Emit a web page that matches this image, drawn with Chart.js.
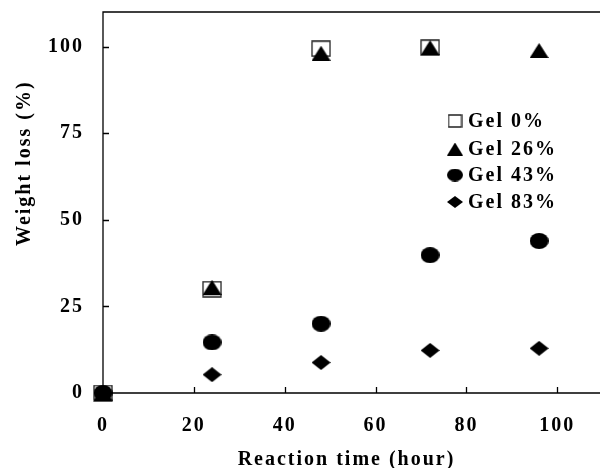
<!DOCTYPE html>
<html>
<head>
<meta charset="utf-8">
<script src="https://cdn.jsdelivr.net/npm/chart.js@4.4.0/dist/chart.umd.min.js"></script>
<style>
  html, body { margin: 0; padding: 0; background: #fff; overflow: hidden; }
  #wrap { width: 600px; height: 468px; }
</style>
</head>
<body>
<div id="wrap"><canvas id="myChart"></canvas></div>
<script>
// data
const hours = [0, 24, 48, 72, 96];
const gel0 = [0, 30, 99.4, 99.7, null];
const gel26 = [0, 30.5, 98.1, 99.7, 98.9];
const gel43 = [0, 14.6, 20, 39.8, 43.9];
const gel83 = [0, 5.3, 8.8, 12.3, 12.9];
const seriesNames = ['Gel 0%', 'Gel 26%', 'Gel 43%', 'Gel 83%'];
const xTicks = [0, 20, 40, 60, 80, 100];
const yTicks = [0, 25, 50, 75, 100];
const xTitle = 'Reaction time (hour)';
const yTitle = 'Weight loss (%)';

const FAMILY = "'Liberation Serif', 'Times New Roman', serif";
const FONT = { family: FAMILY, size: 20, weight: 'bold' };

// marker images (the original symbols are stretched sideways)
function marker(kind, w, h) {
  const c = document.createElement('canvas');
  c.width = w; c.height = h;
  const g = c.getContext('2d');
  g.fillStyle = '#000';
  g.strokeStyle = '#222';
  g.lineWidth = 1.3;
  g.beginPath();
  if (kind === 'square') {
    g.rect(1, 1, w - 2, h - 2);
    g.stroke();
    return c;
  }
  if (kind === 'triangle') {
    g.moveTo(w / 2, 0); g.lineTo(w, h); g.lineTo(0, h);
  } else if (kind === 'ellipse') {
    g.ellipse(w / 2, h / 2, w / 2, h / 2, 0, 0, Math.PI * 2);
  } else {
    g.moveTo(w / 2, 0); g.lineTo(w, h / 2); g.lineTo(w / 2, h); g.lineTo(0, h / 2);
  }
  g.closePath();
  g.fill();
  return c;
}
const markers = [marker('square', 20, 17), marker('triangle', 19, 15), marker('ellipse', 19, 16), marker('diamond', 19, 15)];
const legendMarkers = [marker('square', 15, 14), marker('triangle', 16, 13), marker('ellipse', 16, 13), marker('diamond', 16, 12)];

const toPoints = (ys) => hours.map((x, i) => ({ x: x, y: ys[i] })).filter(p => p.y !== null);
const allSeries = [gel0, gel26, gel43, gel83];

const datasets = allSeries.map((ys, i) => ({
  label: seriesNames[i],
  data: toPoints(ys),
  pointStyle: markers[i],
  pointRadius: 9,
  showLine: false,
  clip: false,
  order: 4 - i
}));

// frame + inward tick marks + y title + legend
const extras = {
  id: 'extras',
  beforeDraw(chart) {
    chart.ctx.letterSpacing = '2px';
  },
  afterDraw(chart) {
    const { ctx, chartArea: a, scales } = chart;
    ctx.save();
    ctx.strokeStyle = '#000';
    ctx.lineWidth = 1.3;
    ctx.beginPath();
    ctx.moveTo(a.left, a.bottom); ctx.lineTo(a.left, a.top); ctx.lineTo(chart.width, a.top);
    ctx.moveTo(a.left, a.bottom); ctx.lineTo(chart.width, a.bottom);
    scales.y.ticks.forEach(t => {
      const py = Math.round(scales.y.getPixelForValue(t.value)) + 0.5;
      ctx.moveTo(a.left, py); ctx.lineTo(a.left + 6, py);
    });
    scales.x.ticks.forEach(t => {
      const px = Math.round(scales.x.getPixelForValue(t.value)) + 0.5;
      ctx.moveTo(px, a.bottom); ctx.lineTo(px, a.bottom - 6);
    });
    ctx.stroke();

    ctx.font = 'bold 20px ' + FAMILY;
    ctx.fillStyle = '#000';
    ctx.letterSpacing = '2px';

    // y title, starting just below the middle of the axis
    ctx.save();
    ctx.translate(30, 246);
    ctx.rotate(-Math.PI / 2);
    ctx.textAlign = 'left';
    ctx.textBaseline = 'alphabetic';
    ctx.fillText(yTitle, 0, 0);
    ctx.restore();

    // legend
    ctx.textBaseline = 'middle';
    const rows = [121, 149, 175, 202];
    seriesNames.forEach((name, i) => {
      const m = legendMarkers[i];
      ctx.drawImage(m, 455 - m.width / 2, rows[i] - m.height / 2);
      ctx.fillText(name, 468, rows[i] + 1);
    });
    ctx.restore();
  }
};

const ctx = document.getElementById('myChart').getContext('2d');

const myChart = new Chart(ctx, {
  type: 'scatter',
  data: { datasets: datasets },
  options: {
    responsive: true,
    maintainAspectRatio: false,
    animation: false,
    layout: { padding: { top: 12, right: 0, left: 0, bottom: 0 } },
    plugins: {
      legend: { display: false },
      tooltip: { enabled: false }
    },
    scales: {
      x: {
        type: 'linear',
        min: 0,
        max: 107.2,   // chart area stops ~10px short of the edge, frame line is extended
        afterFit: (s) => { s.height = 75; s.paddingLeft = 0; s.paddingRight = 0; },
        grid: { display: false, drawTicks: false },
        border: { display: false },
        afterBuildTicks: (s) => { s.ticks = xTicks.map(v => ({ value: v })); },
        ticks: { color: '#000', font: FONT, padding: 21, maxRotation: 0 },
        title: {
          display: true,
          text: xTitle,
          color: '#000',
          font: FONT,
          padding: { top: 0, bottom: -4 }
        }
      },
      y: {
        min: 0,
        max: 110,
        afterFit: (s) => { s.width = 103; s.paddingTop = 0; s.paddingBottom = 0; },
        grid: { display: false, drawTicks: false },
        border: { display: false },
        afterBuildTicks: (s) => { s.ticks = yTicks.map(v => ({ value: v })); },
        ticks: { color: '#000', font: FONT, padding: 19 },
        title: { display: false }
      }
    }
  },
  plugins: [extras]
});
</script>
</body>
</html>
